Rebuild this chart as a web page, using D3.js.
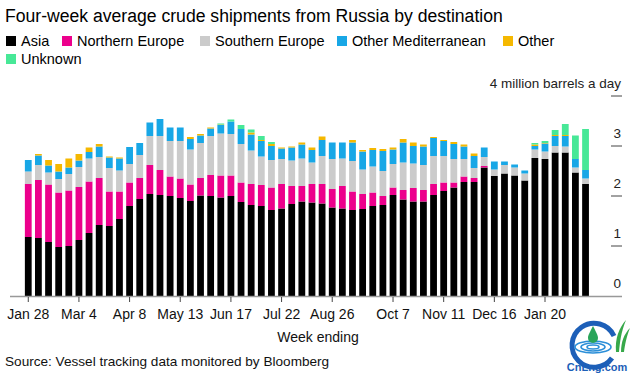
<!DOCTYPE html>
<html><head><meta charset="utf-8">
<script src="https://cdn.jsdelivr.net/npm/d3@7"></script>
<style>
body{margin:0;background:#fff;}
svg{display:block;font-family:"Liberation Sans",Arial,Helvetica,sans-serif;}
</style></head>
<body><svg id="chart" width="632" height="376"></svg>
<script>
const weeks = ["Jan 28","Feb 4","Feb 11","Feb 18","Feb 25","Mar 4","Mar 11","Mar 18","Mar 25","Apr 1",
"Apr 8","Apr 15","Apr 22","Apr 29","May 6","May 13","May 20","May 27","Jun 3","Jun 10",
"Jun 17","Jun 24","Jul 1","Jul 8","Jul 15","Jul 22","Jul 29","Aug 5","Aug 12","Aug 19",
"Aug 26","Sep 2","Sep 9","Sep 16","Sep 23","Sep 30","Oct 7","Oct 14","Oct 21","Oct 28",
"Nov 4","Nov 11","Nov 18","Nov 25","Dec 2","Dec 9","Dec 16","Dec 23","Dec 30","Jan 6",
"Jan 13","Jan 20","Jan 27","Feb 3","Feb 10","Feb 17"];
const tickLabels = ["Jan 28","Mar 4","Apr 8","May 13","Jun 17","Jul 22","Aug 26","Oct 7","Nov 11","Dec 16","Jan 20"];
const yTicks = [0,1,2,3,4];

const asia = [1.18,1.16,1.08,0.98,1.00,1.12,1.26,1.42,1.40,1.54,
1.80,1.94,2.04,2.02,2.00,1.96,1.90,2.01,2.00,1.97,
2.00,1.88,1.82,1.80,1.72,1.75,1.84,1.89,1.87,1.85,
1.77,1.75,1.72,1.74,1.80,1.82,2.02,1.93,1.89,1.89,
2.02,2.10,2.17,2.28,2.28,2.57,2.40,2.45,2.41,2.31,
2.76,2.74,2.87,2.87,2.47,2.24];
const northernEurope = [1.06,1.16,1.15,1.09,1.11,1.06,1.03,0.94,0.69,0.55,
0.47,0.42,0.58,0.50,0.39,0.39,0.33,0.35,0.42,0.44,
0.41,0.39,0.42,0.42,0.45,0.49,0.36,0.31,0.37,0.39,
0.37,0.45,0.37,0.30,0.27,0.18,0.15,0.19,0.27,0.23,
0.22,0.17,0.10,0.11,0.08,0.03,0,0,0,0,
0,0,0,0,0,0];
const southernEurope = [0.25,0.30,0.24,0.27,0.33,0.40,0.46,0.42,0.47,0.42,
0.37,0.46,0.58,0.68,0.71,0.75,0.70,0.70,0.78,0.84,
0.83,0.77,0.67,0.57,0.55,0.50,0.51,0.55,0.43,0.56,
0.60,0.55,0.61,0.49,0.52,0.50,0.47,0.55,0.49,0.50,
0.56,0.53,0.47,0.35,0.20,0.18,0.13,0.17,0.16,0.14,
0.17,0.15,0.13,0.12,0.10,0.11];
const otherMed = [0.23,0.19,0.14,0.15,0.13,0.13,0.13,0.21,0.21,0.24,
0.34,0.24,0.27,0.34,0.27,0.27,0.21,0.15,0.15,0.17,
0.25,0.30,0.32,0.31,0.28,0.21,0.26,0.28,0.25,0.32,
0.33,0.32,0.37,0.36,0.33,0.40,0.29,0.40,0.35,0.37,
0.36,0.30,0.30,0.25,0.24,0.19,0.16,0.07,0.06,0.06,
0.07,0.16,0.20,0.21,0.17,0.17];
const other = [0,0.03,0.11,0.15,0.18,0.13,0.09,0.05,0.02,0.02,
0,0,0,0,0,0,0.04,0.03,0.02,0.01,
0,0,0.04,0.02,0.04,0.02,0.02,0.04,0.05,0.07,
0,0,0.05,0.03,0.04,0.04,0.04,0.07,0.07,0.04,
0.02,0.02,0.04,0.04,0.05,0,0,0,0,0,
0.03,0.01,0.02,0.02,0,0];
const unknown = [0,0,0,0,0,0,0,0,0,0,
0,0,0,0,0,0,0,0,0,0.02,
0.04,0.08,0.06,0.08,0.04,0,0,0,0,0,
0,0,0,0,0,0,0,0,0,0,
0,0,0,0,0,0,0,0,0,0,
0.03,0.04,0.10,0.22,0.47,0.82];

const seriesNames = ["Asia","Northern Europe","Southern Europe","Other Mediterranean","Other","Unknown"];
const seriesColors = ["#000000","#ec008c","#cbcbcb","#18a7e6","#f5b800","#47e897"];
const seriesValues = [asia,northernEurope,southernEurope,otherMed,other,unknown];

const table = weeks.map((w,i)=>{
  const r = {week:w};
  seriesNames.forEach((n,k)=>r[n]=seriesValues[k][i]);
  return r;
});

const svg = d3.select("#chart");
const x = d3.scaleBand().domain(weeks).range([23.2,590.6]).paddingInner(0.33).paddingOuter(0.165);
const y = d3.scaleLinear().domain([0,4]).range([296,96]);

// title
svg.append("text").attr("x",5).attr("y",22).attr("font-size",17.6).attr("fill","#000")
  .text("Four-week average crude shipments from Russia by destination");

// legend
const legendX = [[6,62,200,337,503],[6]];
const legendRows = [[0,1,2,3,4],[5]];
const lg = svg.append("g").attr("font-size",14.5).attr("fill","#000");
legendRows.forEach((row,ri)=>{
  const cy = 41 + ri*18;
  row.forEach((k,j)=>{
    const cx = legendX[ri][j];
    lg.append("rect").attr("x",cx).attr("y",cy-5).attr("width",10).attr("height",10).attr("fill",seriesColors[k]);
    lg.append("text").attr("x",cx+15).attr("y",cy+5).text(seriesNames[k]);
  });
});

// bars
const stack = d3.stack().keys(seriesNames)(table);
svg.append("g").selectAll("g").data(stack).join("g")
  .attr("fill",(d,i)=>seriesColors[i])
  .selectAll("rect").data(d=>d).join("rect")
  .attr("x",d=>x(d.data.week))
  .attr("width",x.bandwidth())
  .attr("y",d=>y(d[1]))
  .attr("height",d=>Math.max(0,y(d[0])-y(d[1])));

// y axis (right)
const ya = svg.append("g");
yTicks.forEach(v=>{
  if(v>0) ya.append("line").attr("x1",611).attr("x2",622).attr("y1",y(v)).attr("y2",y(v)).attr("stroke","#444").attr("stroke-width",1);
  ya.append("text").attr("x",621).attr("y",y(v)-8).attr("text-anchor","end").attr("font-size",13.5).attr("fill","#222")
    .text(v===4 ? "4 million barrels a day" : String(v));
});

// x axis
svg.append("line").attr("x1",10).attr("x2",622).attr("y1",296.5).attr("y2",296.5).attr("stroke","#999").attr("stroke-width",1.5);
const xa = svg.append("g").attr("transform","translate(0,297)")
  .call(d3.axisBottom(x).tickValues(tickLabels.map((t,i)=> i===10 ? weeks[51] : t)).tickSize(5).tickPadding(7)
    .tickFormat((d)=>d));
xa.select(".domain").remove();
xa.selectAll(".tick line").attr("stroke","#444");
xa.selectAll(".tick text").attr("font-size",14).attr("fill","#111").attr("font-family","Liberation Sans,Arial,sans-serif");

svg.append("text").attr("x",318).attr("y",342).attr("text-anchor","middle").attr("font-size",14).attr("fill","#111").text("Week ending");
svg.append("text").attr("x",5).attr("y",366).attr("font-size",13.6).attr("fill","#111").text("Source: Vessel tracking data monitored by Bloomberg");

// watermark logo
const logo = svg.append("g");
logo.append("path").attr("d","M614,336 A22,22 0 1 0 612,358").attr("fill","none").attr("stroke","#1d5fb8").attr("stroke-width",5);
[[18,6],[12,4],[6,2]].forEach(([rx,ry])=>logo.append("ellipse").attr("cx",593).attr("cy",347).attr("rx",rx).attr("ry",ry)
  .attr("fill","none").attr("stroke","#2c8fd8").attr("stroke-width",1.6));
logo.append("path").attr("d","M593,326 C590,332 588,335 588,338 A5,5 0 0 0 598,338 C598,335 596,332 593,326 Z").attr("fill","#2aa55a");
logo.append("path").attr("d","M616,352 C615,338 619,328 626,320 C621,332 620,342 619,352 Z").attr("fill","#37a84a");
logo.append("path").attr("d","M621,352 C621,342 624,334 630,328 C626,338 625,345 624,352 Z").attr("fill","#37a84a");
logo.append("text").attr("x",597).attr("y",371).attr("text-anchor","middle").attr("font-size",11).attr("font-weight","bold")
  .attr("fill","#1d5fb8").text("CnLng.com");
</script>
</body></html>
